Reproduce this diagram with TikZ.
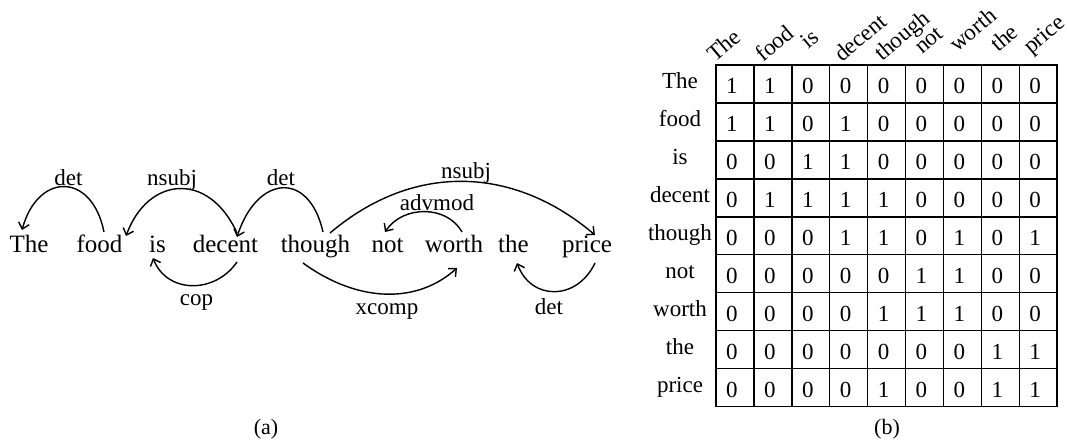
\documentclass[tikz,border=0pt]{standalone}
\usepackage{fontspec}
\setmainfont{Liberation Serif}
\usetikzlibrary{arrows.meta,calc}
\begin{document}
\begin{tikzpicture}[x=1pt,y=-1pt,
  word/.style={font=\fontsize{25}{30}\selectfont, inner sep=0pt, anchor=base},
  rel/.style={font=\fontsize{23}{28}\selectfont, inner sep=0pt, anchor=base},
  dep/.style={line width=1.4pt, -{Straight Barb[length=6pt,width=11pt]}},
  rowlab/.style={font=\fontsize{23}{28}\selectfont, inner sep=0pt, anchor=base},
  colhead/.style={font=\fontsize{23}{28}\selectfont, inner sep=0pt, anchor=base west, rotate=40},
  cell/.style={font=\fontsize{23}{28}\selectfont, inner sep=0pt},
  gridline/.style={line width=1.4pt, line cap=rect},
  caption/.style={font=\fontsize{22}{26}\selectfont, inner sep=0pt, anchor=base}]
\path[use as bounding box] (0,0) rectangle (1067,441);

% ---- (a) dependency tree of the sentence ----
\node[word] (w1) at (29,252) {The};
\node[word] (w2) at (99.5,252) {food};
\node[word] (w3) at (157.5,252) {is};
\node[word] (w4) at (225.5,252) {decent};
\node[word] (w5) at (315.5,252) {though};
\node[word] (w6) at (387.5,252) {not};
\node[word] (w7) at (454,252) {worth};
\node[word] (w8) at (513.5,252) {the};
\node[word] (w9) at (587,252) {price};

% arcs above the words
\draw[dep] ([shift={(4.5,-20)}]w2.base) .. controls +(-12,-60) and +(16,-58) .. ([shift={(-7,-22)}]w1.base);
\draw[dep] ([shift={(11.5,-19)}]w4.base) .. controls +(-28,-62) and +(22,-60) .. ([shift={(26.5,-16)}]w2.base);
\draw[dep] ([shift={(7.5,-20)}]w5.base) .. controls +(-14,-62) and +(20,-62) .. ([shift={(11.5,-15)}]w4.base);
\draw[dep] ([shift={(14.5,-19)}]w5.base) .. controls +(85,-72) and +(-80,-68) .. ([shift={(8,-17)}]w9.base);
\draw[dep] ([shift={(8,-20)}]w7.base) .. controls +(-15,-27) and +(18,-27) .. ([shift={(-2.5,-20)}]w6.base);
% arcs below the words
\draw[dep] ([shift={(11.5,10)}]w4.base) .. controls +(-22,32) and +(14,36) .. ([shift={(-4.5,6)}]w3.base);
\draw[dep] ([shift={(-12.5,11)}]w5.base) .. controls +(55,40) and +(-40,36) .. ([shift={(3,16)}]w7.base);
\draw[dep] ([shift={(8,11)}]w9.base) .. controls +(-18,38) and +(14,38) .. ([shift={(3.5,11)}]w8.base);

% relation labels
\node[rel] (l1) at (68.5,185) {det};
\node[rel] (l2) at (172,185) {nsubj};
\node[rel] (l3) at (281,185) {det};
\node[rel] (l4) at (466,178) {nsubj};
\node[rel] (l5) at (437,210) {advmod};
\node[rel] (l6) at (196.5,305) {cop};
\node[rel] (l7) at (387,314) {xcomp};
\node[rel] (l8) at (549,314) {det};

\node[caption] (capa) at (266,434) {(a)};

% ---- (b) adjacency matrix ----
\foreach \i in {0,...,9} {
  \draw[gridline] ({716+37.9*\i},65) -- ({716+37.9*\i},406.55);
  \draw[gridline] (716,{65+37.95*\i}) -- (1057.1,{65+37.95*\i});
}

\foreach \t/\x/\y [count=\c] in {The/715/63, food/763/63, is/808/50, decent/842/63,
    though/882/62, not/922/55, worth/957/53, the/998/53, price/1031/55}
  \node[colhead] (h\c) at (\x,\y) {\t};

\foreach \r/\lab/\vals in {
    1/The/{1,1,0,0,0,0,0,0,0},
    2/food/{1,1,0,1,0,0,0,0,0},
    3/is/{0,0,1,1,0,0,0,0,0},
    4/decent/{0,1,1,1,1,0,0,0,0},
    5/though/{0,0,0,1,1,0,1,0,1},
    6/not/{0,0,0,0,0,1,1,0,0},
    7/worth/{0,0,0,0,1,1,1,0,0},
    8/the/{0,0,0,0,0,0,0,1,1},
    9/price/{0,0,0,0,1,0,0,1,1}} {
  \node[rowlab] (r\r) at (680,{65+37.95*(\r-0.5)+5}) {\lab};
  \foreach \v [count=\c] in \vals
    \node[cell] (m\r-\c) at ({716+37.9*(\c-0.5)-3},{65+37.95*(\r-0.5)+2}) {\v};
}

\node[caption] (capb) at (887,434) {(b)};
\end{tikzpicture}
\end{document}
